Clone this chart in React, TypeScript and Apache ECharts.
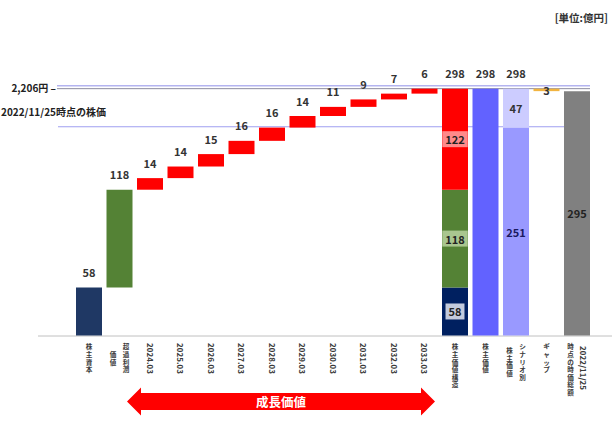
import React, { useEffect, useRef } from 'react';
import * as echarts from 'echarts';

// ---------- data ----------
const categories = [
  '株主資本', '超過利潤価値',
  '2024.03', '2025.03', '2026.03', '2027.03', '2028.03',
  '2029.03', '2030.03', '2031.03', '2032.03', '2033.03',
  '株主価値構造', '株主価値', 'シナリオ別株主価値', 'ギャップ', '2022/11/25時点の時価総額',
];
// axis label columns, written right-to-left (vertical Japanese layout)
const labelColumns: string[][] = [
  ['株主資本'], ['超過利潤', '価値'],
  ['2024.03'], ['2025.03'], ['2026.03'], ['2027.03'], ['2028.03'],
  ['2029.03'], ['2030.03'], ['2031.03'], ['2032.03'], ['2033.03'],
  ['株主価値構造'], ['株主価値'], ['シナリオ別', '株主価値'], ['ギャップ'], ['2022/11/25', '時点の時価総額'],
];
const shareholderEquity = 58;
const excessProfitValue = 118;
const growthSteps = [14, 14, 15, 16, 16, 14, 11, 9, 7, 6];
const structureParts = [58, 118, 122];
const shareholderValue = 298;
const scenarioParts = [251, 47];
const marketCap = 295;
const gap = 3;
const priceLevels = [298, 252];
const priceLabels = ['2,206円 –', '2022/11/25時点の株価'];
const unitLabel = '[単位:億円]';
const growthLabel = '成長価値';

const FONT = '"Noto Sans CJK JP", "Noto Sans", sans-serif';
const VFONT = '"Liberation Sans", "Noto Sans CJK JP", sans-serif';

export default function App() {
  const ref = useRef<HTMLDivElement>(null);

  useEffect(() => {
    if (!ref.current) return;
    const chart = echarts.init(ref.current, null, { renderer: 'svg' });
    const N = categories.length;
    const blank = () => new Array(N).fill('-') as any[];

    const iGrowth0 = 2;
    const iStruct = iGrowth0 + growthSteps.length;
    const iValue = iStruct + 1;
    const iScen = iStruct + 2;
    const iGap = iStruct + 3;
    const iCap = iStruct + 4;

    const topLabel = {
      show: true, position: 'top', distance: 10, fontSize: 11, fontWeight: 'bold',
      color: '#333', fontFamily: FONT,
    };
    const boxLabel = (bg: string) => ({
      show: true, position: 'inside', fontSize: 11, fontWeight: 'bold', color: '#222',
      fontFamily: FONT, backgroundColor: bg, padding: [3, 3, 2, 3],
    });
    const inLabel = (c: string) => ({
      show: true, position: 'inside', fontSize: 11, fontWeight: 'bold', color: c, fontFamily: FONT,
    });

    const base = blank();
    const lower = blank();
    const mid = blank();
    const top = blank();

    lower[0] = { value: shareholderEquity, itemStyle: { color: '#1f3864' }, label: topLabel };
    base[1] = shareholderEquity;
    lower[1] = { value: excessProfitValue, itemStyle: { color: '#548235' }, label: topLabel };
    let cum = shareholderEquity + excessProfitValue;
    growthSteps.forEach((s, k) => {
      base[iGrowth0 + k] = cum;
      lower[iGrowth0 + k] = { value: s, itemStyle: { color: '#ff0000' }, label: topLabel };
      cum += s;
    });
    lower[iStruct] = { value: structureParts[0], itemStyle: { color: '#002060' }, label: boxLabel('#c3cbdd') };
    mid[iStruct] = { value: structureParts[1], itemStyle: { color: '#548235' }, label: boxLabel('#a9c68f') };
    top[iStruct] = { value: structureParts[2], itemStyle: { color: '#ff0000' }, label: boxLabel('#ff8a8a') };
    lower[iValue] = { value: shareholderValue, itemStyle: { color: '#6262ff' }, label: topLabel };
    lower[iScen] = { value: scenarioParts[0], itemStyle: { color: '#9999ff' }, label: inLabel('#1a1a60') };
    mid[iScen] = { value: scenarioParts[1], itemStyle: { color: '#ccccff' }, label: inLabel('#333') };
    base[iGap] = marketCap;
    lower[iGap] = { value: gap, itemStyle: { color: '#f2b440' }, label: inLabel('#333') };
    lower[iCap] = { value: marketCap, itemStyle: { color: '#808080' }, label: inLabel('#222') };

    const sum = (a: number[]) => a.reduce((p, c) => p + c, 0);
    const totals = [
      [categories[iStruct], sum(structureParts)],
      [categories[iScen], sum(scenarioParts)],
    ];

    const barCommon = { type: 'bar', stack: 'w', barWidth: 26, silent: true, z: 3 };

    chart.setOption({
      animation: false,
      grid: { left: 73.75, right: 19.75, top: 87, bottom: 85.5 },
      xAxis: {
        type: 'category', data: categories,
        axisLine: { show: false }, axisTick: { show: false }, axisLabel: { show: false },
      },
      yAxis: {
        type: 'value', min: 0, max: 300, show: false,
        splitLine: { show: false },
      },
      series: [
        { ...barCommon, name: 'base', data: base, itemStyle: { color: 'transparent' } },
        { ...barCommon, name: 'lower', data: lower },
        { ...barCommon, name: 'mid', data: mid },
        { ...barCommon, name: 'top', data: top },
        {
          type: 'scatter', name: 'total', data: totals, symbolSize: 0, silent: true, z: 4,
          itemStyle: { opacity: 1, color: '#333' },
          label: { ...topLabel, opacity: 1 },
        },
      ],
    });

    const px = (i: number) => chart.convertToPixel({ xAxisIndex: 0 }, categories[i]) as number;
    const py = (v: number) => chart.convertToPixel({ yAxisIndex: 0 }, v) as number;

    const els: any[] = [];
    const y0 = py(0);
    // baseline
    els.push({ type: 'line', z: 1, shape: { x1: 38, y1: y0 + 0.5, x2: 612, y2: y0 + 0.5 }, style: { stroke: '#c0c0c0', lineWidth: 1 } });
    // price lines
    const yTop = py(priceLevels[0]);
    els.push({ type: 'line', z: 0, shape: { x1: 57, y1: yTop - 3, x2: 590, y2: yTop - 3 }, style: { stroke: '#b4b4f0', lineWidth: 1.5 } });
    els.push({ type: 'line', z: 0, shape: { x1: 57, y1: yTop, x2: 590, y2: yTop }, style: { stroke: '#8c8ca0', lineWidth: 1 } });
    els.push({
      type: 'text', z: 5, x: 56, y: yTop - 1,
      style: { text: priceLabels[0], fontSize: 10, fontWeight: 'bold', fontFamily: FONT, fill: '#222', align: 'right', verticalAlign: 'middle', textAlign: 'right', textVerticalAlign: 'middle' },
    });
    const yLow = py(priceLevels[1]);
    els.push({ type: 'line', z: 0, shape: { x1: 58, y1: yLow, x2: 582, y2: yLow }, style: { stroke: '#9f9ff0', lineWidth: 1.2 } });
    els.push({
      type: 'text', z: 5, x: 1, y: yLow - 15,
      style: { text: priceLabels[1], fontSize: 10, fontWeight: 'bold', fontFamily: FONT, fill: '#222', align: 'left', verticalAlign: 'middle', textAlign: 'left', textVerticalAlign: 'middle' },
    });
    // unit
    els.push({
      type: 'text', z: 5, x: 608, y: 17,
      style: { text: unitLabel, fontSize: 10.5, fontWeight: 'bold', fontFamily: FONT, fill: '#333', align: 'right', verticalAlign: 'middle', textAlign: 'right', textVerticalAlign: 'middle' },
    });

    // axis labels (vertical)
    const LH = 7.6;
    const FS = 6.6;
    const labelTop = y0 + 7.5;
    const isRot = (s: string) => /^[0-9./]+$/.test(s);
    const colLen = (s: string) => (isRot(s) ? s.length * 4.7 : s.length * LH);
    labelColumns.forEach((cols, i) => {
      const cx = px(i);
      const maxLen = Math.max(...cols.map(colLen));
      cols.forEach((c, k) => {
        const dx = cols.length === 1 ? 0 : (k === 0 ? 6.5 : -6.5);
        const yStart = labelTop + (maxLen - colLen(c)) / 2;
        if (isRot(c)) {
          els.push({
            type: 'text', z: 5, x: cx + dx, y: yStart, rotation: -Math.PI / 2,
            style: { text: c, fontSize: 8, fontWeight: 'bold', fontFamily: FONT, fill: '#3a3a3a', align: 'left', verticalAlign: 'middle', textAlign: 'left', textVerticalAlign: 'middle' },
          });
        } else {
          c.split('').forEach((ch, j) => {
            els.push({
              type: 'text', z: 5, x: cx + dx, y: yStart + j * LH + LH / 2,
              style: { text: ch, fontSize: FS, fontWeight: 'bold', fontFamily: VFONT, fill: '#3a3a3a', align: 'center', verticalAlign: 'middle', textAlign: 'center', textVerticalAlign: 'middle' },
            });
          });
        }
      });
    });

    // growth value arrow
    const ay = 401.5;
    const xl = 127, xr = 435, head = 14, hh = 14, sh = 8.5;
    els.push({
      type: 'polygon', z: 5,
      shape: {
        points: [
          [xl, ay], [xl + head, ay - hh], [xl + head, ay - sh], [xr - head, ay - sh], [xr - head, ay - hh],
          [xr, ay], [xr - head, ay + hh], [xr - head, ay + sh], [xl + head, ay + sh], [xl + head, ay + hh],
        ],
      },
      style: { fill: '#ff0000' },
    });
    els.push({
      type: 'text', z: 6, x: (xl + xr) / 2, y: ay,
      style: { text: growthLabel, fontSize: 12.5, fontWeight: 'bold', fontFamily: FONT, fill: '#fff', align: 'center', verticalAlign: 'middle', textAlign: 'center', textVerticalAlign: 'middle' },
    });

    chart.setOption({ graphic: { elements: els } });

    return () => chart.dispose();
  }, []);

  return (
    <div
      ref={ref}
      style={{ position: 'fixed', left: 0, top: 0, width: 612, height: 421, background: '#fff' }}
    />
  );
}
